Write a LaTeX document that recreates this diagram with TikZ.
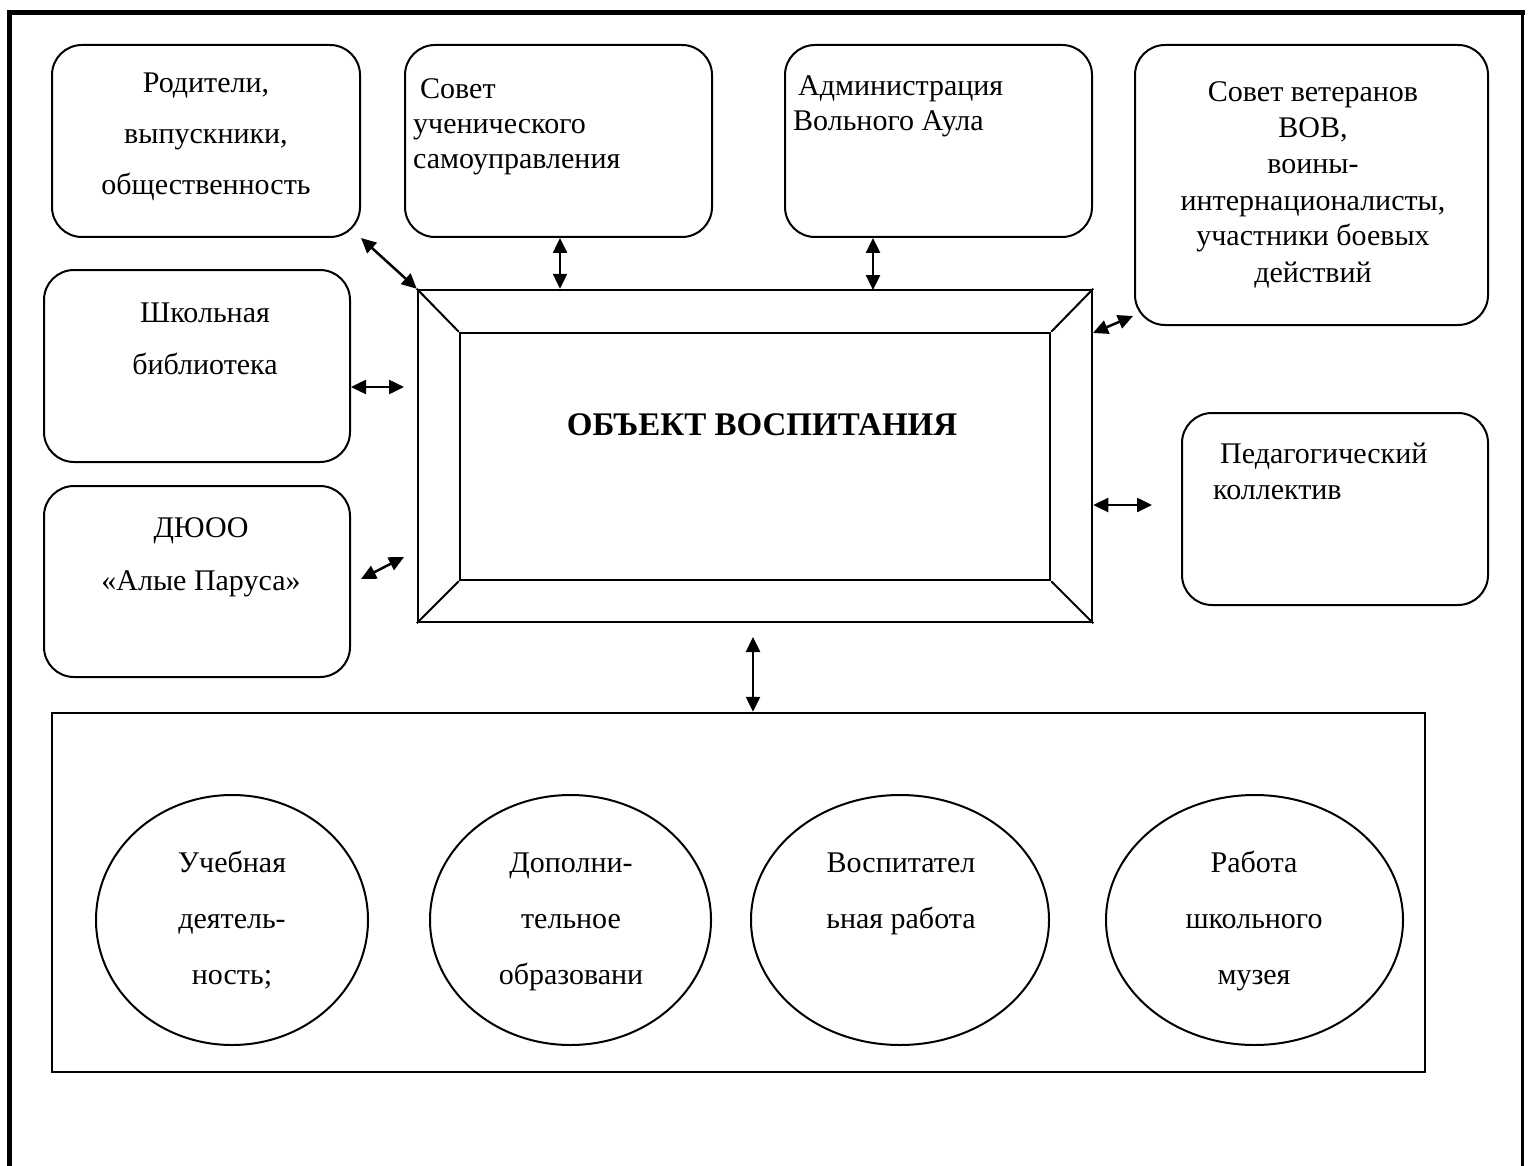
\documentclass[tikz,border=0pt]{standalone}
\usepackage{fontspec}
\setmainfont{Liberation Serif}
\usetikzlibrary{arrows.meta,shapes.geometric}
\begin{document}
\begin{tikzpicture}[x=1pt,y=-1pt,
  rbox/.style={draw, line width=2pt, rounded corners=30pt, inner sep=0pt},
  fbox/.style={draw, line width=2.5pt, inner sep=0pt},
  ell/.style={draw, ellipse, line width=2pt, inner sep=0pt},
  sgl/.style={inner sep=0pt, font=\fontsize{30}{35}\selectfont},
  onehalf/.style={inner sep=0pt, font=\fontsize{30}{52}\selectfont},
  elltxt/.style={inner sep=0pt, align=center, anchor=base, font=\fontsize{30}{56}\selectfont},
  arr/.style={line width=2.5pt, {Triangle[length=15pt,width=14pt]}-{Triangle[length=15pt,width=14pt]}}
]
\useasboundingbox (0,0) rectangle (1530,1166);
% outer page border
\coordinate (tl) at (7,12.5);
\coordinate (tr) at (1524.5,12.5);
\draw[line width=5pt] (tl) -- (tr);
\draw[line width=5pt] (9.5,10) -- (9.5,1166);
\draw[line width=3pt] (1522,10) -- (1522,1166);

% boxes
\node[rbox, minimum width=308pt, minimum height=192pt] (b1) at (206,141) {};
\node[rbox, minimum width=307pt, minimum height=192pt] (b2) at (558.5,141) {};
\node[rbox, minimum width=307pt, minimum height=192pt] (b3) at (938.5,141) {};
\node[rbox, minimum width=353pt, minimum height=280pt] (b4) at (1311.5,185) {};
\node[rbox, minimum width=306pt, minimum height=192pt] (b5) at (197,366) {};
\node[rbox, minimum width=306pt, minimum height=191pt] (b6) at (197,581.5) {};
\node[rbox, minimum width=306pt, minimum height=192pt] (b7) at (1335,509) {};

% texts in boxes (anchor=base is the last line's baseline)
\node[onehalf, align=center, anchor=base, font=\fontsize{30}{51}\selectfont] (t1) at (206,195) {Родители,\\выпускники,\\общественность};
\node[sgl, align=left, anchor=base west] (t2) at (413,169) {\hspace*{7pt}Совет\\ученического\\самоуправления};
\node[sgl, align=left, anchor=base west] (t3) at (793,131) {\hspace*{5pt}Администрация\\Вольного Аула};
\node[sgl, align=center, anchor=base, font=\fontsize{30}{36}\selectfont] (t4) at (1313,282) {Совет ветеранов\\ВОВ,\\воины-\\интернационалисты,\\участники боевых\\действий};
\node[onehalf, align=center, anchor=base] (t5) at (205,374) {Школьная\\библиотека};
\node[onehalf, align=center, anchor=base, font=\fontsize{30}{53}\selectfont] (t6) at (201,590) {ДЮОО\\«Алые Паруса»};
\node[sgl, align=left, anchor=base west, font=\fontsize{30}{36}\selectfont] (t7) at (1213,499) {\hspace*{7pt}Педагогический\\коллектив};

% central bevelled frame
\node[fbox, minimum width=674pt, minimum height=332pt] (frame) at (755,456) {};
\node[fbox, minimum width=590pt, minimum height=247pt] (inner) at (755,456.5) {};
\draw[line width=2pt] (frame.north west) -- (inner.north west);
\draw[line width=2pt] (frame.north east) -- (inner.north east);
\draw[line width=2pt] (frame.south west) -- (inner.south west);
\draw[line width=2pt] (frame.south east) -- (inner.south east);
\node[inner sep=0pt, anchor=base, font=\fontsize{33}{38}\selectfont\bfseries] (title) at (762,435) {ОБЪЕКТ ВОСПИТАНИЯ};

% bottom block
\node[draw, line width=2.5pt, inner sep=0pt, minimum width=1373pt, minimum height=359pt] (bot) at (738.5,892.5) {};
\node[ell, minimum width=272pt, minimum height=250pt] (e1) at (232,920) {};
\node[ell, minimum width=281pt, minimum height=250pt] (e2) at (570.5,920) {};
\node[ell, minimum width=298pt, minimum height=250pt] (e3) at (900,920) {};
\node[ell, minimum width=297pt, minimum height=250pt] (e4) at (1254.5,920) {};
\node[elltxt] (u1) at (232,984) {Учебная\\деятель-\\ность;};
\node[elltxt] (u2) at (571,984) {Дополни-\\тельное\\образовани};
\node[elltxt] (u3) at (901,928) {Воспитател\\ьная работа};
\node[elltxt] (u4) at (1254,984) {Работа\\школьного\\музея};

% connectors
\coordinate (a3) at (873,290);
\coordinate (a4a) at (1093,333);
\coordinate (a4b) at (1133,316);
\coordinate (a5) at (404,387);
\coordinate (a6a) at (361,579);
\coordinate (a6b) at (404,557);
\coordinate (a7) at (1152,505);
\coordinate (a8) at (753,637);
\draw[arr] (b1.south east) -- (frame.north west);
\draw[arr] (frame.north -| 560,0) -- (b2.south -| 560,0);
\draw[arr] (b3.south -| a3) -- (a3);
\draw[arr] (a4a) -- (a4b);
\draw[arr] (b5.east |- a5) -- (a5);
\draw[arr] (a6a) -- (a6b);
\draw[arr] (frame.east |- a7) -- (a7);
\draw[arr] (a8) -- (a8 |- bot.north);
\end{tikzpicture}
\end{document}
